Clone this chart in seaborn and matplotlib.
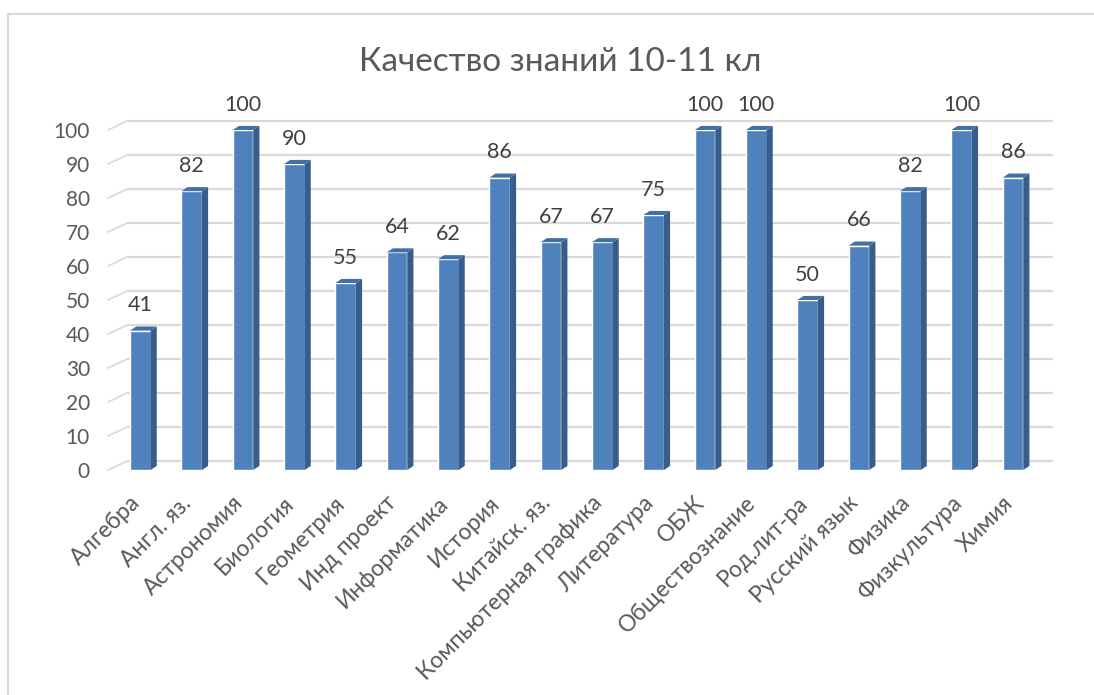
import matplotlib
matplotlib.use("Agg")
import matplotlib.pyplot as plt
import matplotlib.transforms as mtransforms
import seaborn as sns
import pandas as pd
from matplotlib.patches import Polygon, Rectangle

subjects = ["Алгебра", "Англ. яз.", "Астрономия", "Биология", "Геометрия",
            "Инд проект", "Информатика", "История", "Китайск. яз.",
            "Компьютерная графика", "Литература", "ОБЖ", "Обществознание",
            "Род.лит-ра", "Русский язык", "Физика", "Физкультура", "Химия"]
quality = [41, 82, 100, 90, 55, 64, 62, 86, 67, 67, 75, 100, 100, 50, 66, 82, 100, 86]
y_ticks = [0, 10, 20, 30, 40, 50, 60, 70, 80, 90, 100]
title = "Качество знаний 10-11 кл"

front = "#4F81BD"
side = "#385D8A"
top = "#416FA6"
grid = "#D9D9D9"
txt = "#595959"

sns.set_theme(style="white")
plt.rcParams["font.family"] = ["Lato", "DejaVu Sans"]

df = pd.DataFrame({"subject": subjects, "value": quality})

fig = plt.figure(figsize=(10.94, 6.95), dpi=100)
ax = fig.add_axes([108 / 1094, 1 - 470 / 695, (1052 - 108) / 1094, 340 / 695])

# back wall grid (3d look)
back = 2.7
for t in y_ticks:
    ax.plot([-0.63, -0.25], [t, t + back], color=grid, lw=1.2, zorder=0, clip_on=False)
    ax.plot([-0.25, 17.76], [t + back, t + back], color=grid, lw=1.6, zorder=0, clip_on=False)

sns.barplot(data=df, x="subject", y="value", color=front, width=0.40,
            saturation=1, ax=ax, zorder=3)

dx, dy = 0.12, 1.2
for p in ax.patches:
    x0, w, h = p.get_x(), p.get_width(), p.get_height()
    ax.add_patch(Polygon([(x0 + w, 0), (x0 + w + dx, dy), (x0 + w + dx, h + dy), (x0 + w, h)],
                         closed=True, facecolor=side, edgecolor="none", zorder=3, clip_on=False))
    ax.add_patch(Polygon([(x0, h), (x0 + dx, h + dy), (x0 + w + dx, h + dy), (x0 + w, h)],
                         closed=True, facecolor=top, edgecolor="none", zorder=3, clip_on=False))

ax.bar_label(ax.containers[0], labels=[str(v) for v in quality], padding=11,
             fontsize=15.5, color="#404040")

ax.set_xlim(-0.63, 17.76)
ax.set_ylim(0, 100)
ax.set_yticks(y_ticks)
ax.set_yticklabels([str(t) for t in y_ticks], fontsize=15, color=txt)
ax.tick_params(axis="y", length=0, pad=13)
ax.tick_params(axis="x", length=0, pad=16)
ax.set_xticks(range(len(subjects)))
ax.set_xticklabels(subjects, rotation=45, ha="right", rotation_mode="anchor",
                   fontsize=16.5, color=txt)
shift = mtransforms.ScaledTranslation(-8 / 72, 0, fig.dpi_scale_trans)
for lab in ax.get_xticklabels():
    lab.set_transform(lab.get_transform() + shift)
ax.set_xlabel("")
ax.set_ylabel("")
for s in ax.spines.values():
    s.set_visible(False)
ax.set_facecolor("none")

fig.text(560 / 1094, 1 - 62 / 695, title, ha="center", va="center",
         fontsize=24, color=txt)

fig.patches.append(Rectangle((8 / 1094, -0.05), 1.2, 1 - 14 / 695 + 0.05,
                             transform=fig.transFigure, fill=False,
                             edgecolor=grid, lw=1.5, zorder=0))

fig.savefig("out.png", dpi=100)
